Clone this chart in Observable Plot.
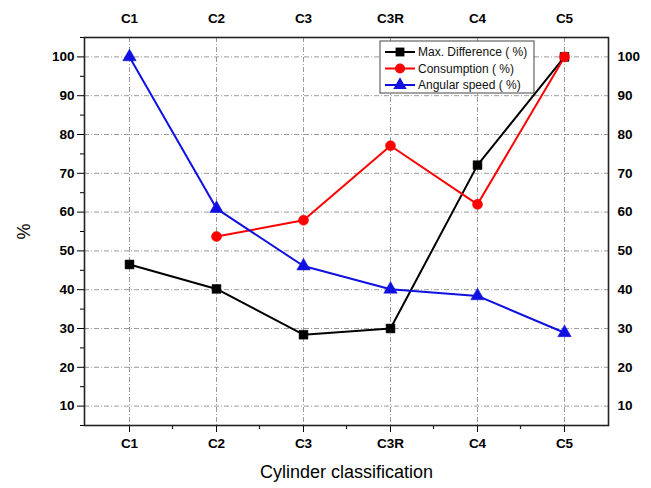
<!DOCTYPE html>
<html>
<head>
<meta charset="utf-8">
<script src="https://cdn.jsdelivr.net/npm/d3@7"></script>
<script src="https://cdn.jsdelivr.net/npm/@observablehq/plot@0.6"></script>
<style>
  html, body { margin: 0; padding: 0; background: #fff; }
  #chart { position: relative; width: 651px; height: 488px; }
</style>
</head>
<body>
<div id="chart"></div>
<script>
// ---- data ----
const categories = ["C1", "C2", "C3", "C3R", "C4", "C5"];
const maxDifference = [46.5, 40.2, 28.4, 30.0, 72.1, 100];
const consumption = [null, 53.7, 57.9, 77.1, 62.0, 100];
const angularSpeed = [100, 60.9, 46.1, 40.1, 38.4, 28.9];
const seriesNames = ["Max. Difference ( %)", "Consumption ( %)", "Angular speed ( %)"];
const seriesColors = ["#000000", "#ff0000", "#1010e0"];
const seriesSymbols = ["square", "circle", "triangle"];
const yTicks = [10, 20, 30, 40, 50, 60, 70, 80, 90, 100];
const yMinorTicks = [5, 15, 25, 35, 45, 55, 65, 75, 85, 95, 105];

const seriesValues = [maxDifference, consumption, angularSpeed];
const rows = [];
seriesValues.forEach((vals, s) => {
  vals.forEach((v, i) => {
    if (v != null) rows.push({series: seriesNames[s], cat: categories[i], value: v});
  });
});

const font = "'Liberation Sans', Arial, sans-serif";
const gridStyle = {stroke: "#9a9a9a", strokeOpacity: 1, strokeWidth: 1, strokeDasharray: "5,2,1,2"};

const chart = Plot.plot({
  width: 651,
  height: 488,
  marginLeft: 84,
  marginRight: 43,
  marginTop: 37,
  marginBottom: 63,
  style: {fontFamily: font, background: "#fff", overflow: "visible"},
  x: {type: "point", domain: categories, padding: 0.5},
  y: {domain: [5, 105]},
  color: {domain: seriesNames, range: seriesColors},
  symbol: {domain: seriesNames, range: seriesSymbols},
  marks: [
    Plot.gridY(yTicks, gridStyle),
    Plot.gridX(categories, gridStyle),
    // left axis
    Plot.axisY(yTicks, {anchor: "left", tickSize: 7, tickPadding: 3, fontSize: 13.5, fontWeight: "bold", label: "%", labelAnchor: "center", labelOffset: 67, labelArrow: "none"}),
    Plot.axisY(yMinorTicks, {anchor: "left", tickSize: 4, tickFormat: () => "", label: null}),
    // right axis
    Plot.axisY(yTicks, {anchor: "right", tickSize: 0, tickPadding: 9, fontSize: 13.5, fontWeight: "bold", label: null}),
    // bottom axis
    Plot.axisX(categories, {anchor: "bottom", tickSize: 7, tickPadding: 6, fontSize: 13.5, fontWeight: "bold", label: "Cylinder classification", labelAnchor: "center", labelOffset: 52, labelArrow: "none"}),
    // top axis
    Plot.axisX(categories, {anchor: "top", tickSize: 0, tickPadding: 15, fontSize: 13.5, fontWeight: "bold", label: null}),
    Plot.frame({stroke: "#222", strokeWidth: 1.6}),
    Plot.line(rows, {x: "cat", y: "value", z: "series", stroke: "series", strokeWidth: 2}),
    Plot.dot(rows, {x: "cat", y: "value", fill: "series", stroke: "series", symbol: "series", r: 5, strokeWidth: 0.5})
  ]
});

// style axis labels (titles)
d3.select(chart).selectAll("g[aria-label='x-axis label'] text, g[aria-label='y-axis label'] text")
  .attr("font-size", 18).attr("font-weight", "normal")
  .attr("font-family", "'Liberation Sans Narrow', 'Liberation Sans', Arial, sans-serif");

// minor x ticks at midpoints between categories
const xs = chart.scale("x");
const ys = chart.scale("y");
const svg = d3.select(chart);
const bottomY = ys.apply(5);
const mids = [];
for (let i = 0; i < categories.length - 1; i++) {
  mids.push((xs.apply(categories[i]) + xs.apply(categories[i + 1])) / 2);
}
svg.append("g").attr("stroke", "#222").attr("stroke-width", 1.2)
  .selectAll("line").data(mids).join("line")
  .attr("x1", d => d).attr("x2", d => d)
  .attr("y1", bottomY).attr("y2", bottomY + 4);

// legend box inside the plot
const lx = 380, ly = 41, lw = 154, lh = 52;
const lg = svg.append("g").attr("font-family", font).attr("font-size", 12).attr("text-anchor", "start");
lg.append("rect").attr("x", lx).attr("y", ly).attr("width", lw).attr("height", lh)
  .attr("fill", "#fff").attr("stroke", "#444").attr("stroke-width", 1);
seriesNames.forEach((name, i) => {
  const yy = ly + 11 + i * 16.5;
  lg.append("line").attr("x1", lx + 5).attr("x2", lx + 35).attr("y1", yy).attr("y2", yy)
    .attr("stroke", seriesColors[i]).attr("stroke-width", 2);
  const sym = {square: d3.symbolSquare, circle: d3.symbolCircle, triangle: d3.symbolTriangle}[seriesSymbols[i]];
  lg.append("path").attr("d", d3.symbol(sym, Math.PI * 25)())
    .attr("transform", `translate(${lx + 20},${yy})`).attr("fill", seriesColors[i]);
  lg.append("text").attr("x", lx + 38).attr("y", yy).attr("dy", "0.35em")
    .attr("text-anchor", "start").attr("fill", "#111").text(name);
});

document.getElementById("chart").appendChild(chart);
</script>
</body>
</html>
